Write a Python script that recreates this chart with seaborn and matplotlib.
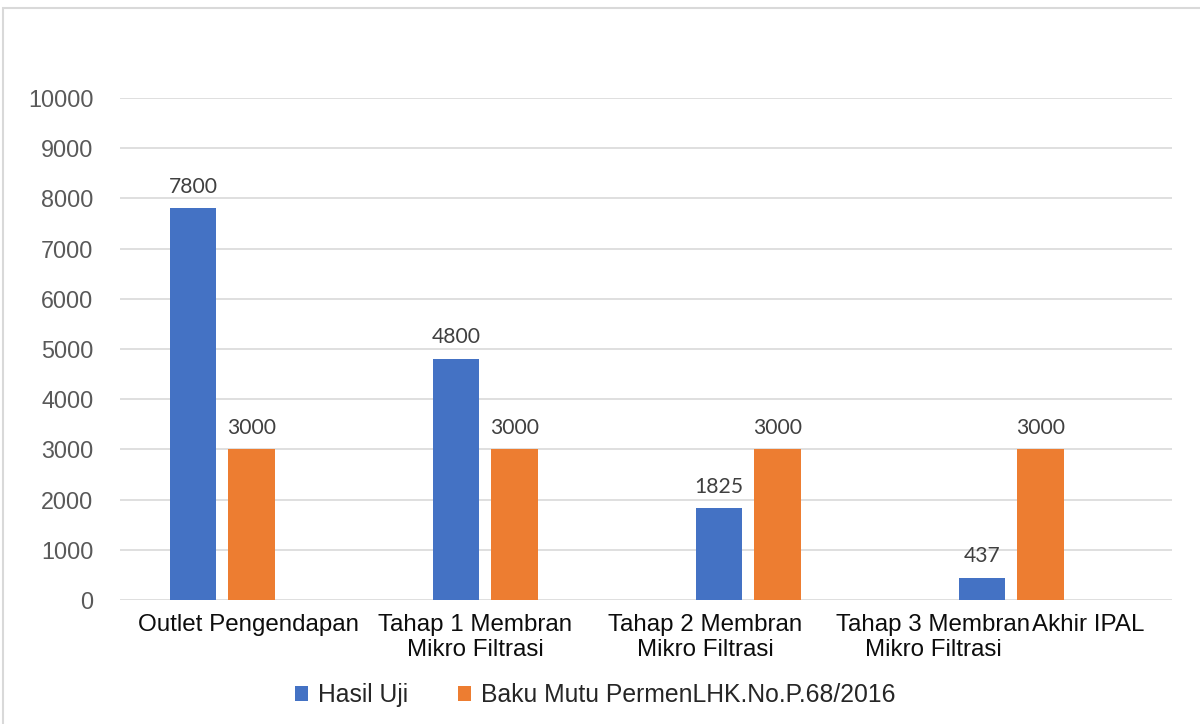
import pandas as pd
import numpy as np
import matplotlib.pyplot as plt
import matplotlib.transforms as mtransforms
from matplotlib.patches import Rectangle, Patch
import seaborn as sns

# --- data ---
lokasi = ['Outlet Pengendapan', 'Tahap 1 Membran\nMikro Filtrasi',
          'Tahap 2 Membran\nMikro Filtrasi', 'Tahap 3 Membran\nMikro Filtrasi']
hasil_uji = [7800, 4800, 1825, 437]
baku_mutu = [3000, 3000, 3000, 3000]
seri = ['Hasil Uji', 'Baku Mutu PermenLHK.No.P.68/2016']
extra_label = 'Akhir IPAL'   # stray category text in the original export
yticks = list(range(0, 10001, 1000))

BLUE = '#4472C4'
ORANGE = '#ED7D31'
GRID = '#d9d9d9'


def build_frame():
    df = pd.DataFrame({
        'lokasi': lokasi * 2,
        'seri': [seri[0]] * len(lokasi) + [seri[1]] * len(lokasi),
        'nilai': hasil_uji + baku_mutu,
    })
    return df


def draw(df):
    sns.set_style('white')
    plt.rcParams['font.family'] = ['Liberation Sans', 'DejaVu Sans']

    fig = plt.figure(figsize=(12, 7.24), dpi=100)
    ax = fig.add_axes([0.1, 0.1713, 0.8767, 0.6933])

    # the source chart had an empty third series, so each group keeps a blank slot
    sns.barplot(data=df, x='lokasi', y='nilai', hue='seri',
                hue_order=seri + [' '], palette=[BLUE, ORANGE, 'white'],
                order=lokasi, width=0.667, gap=0.21, saturation=1,
                linewidth=0, legend=False, ax=ax)

    ax.set_ylim(0, 10000)
    ax.set_yticks(yticks)
    ax.yaxis.grid(True, color=GRID, lw=1.2)
    ax.set_axisbelow(True)
    for s in ax.spines.values():
        s.set_visible(False)
    ax.tick_params(axis='y', length=0, pad=19, labelsize=16.8, labelcolor='#595959')
    ax.tick_params(axis='x', length=0)
    ax.set_xticklabels([])
    ax.set_xlabel('')
    ax.set_ylabel('')

    # value labels
    for cont in ax.containers:
        ax.bar_label(cont, fmt='%g', padding=8.5, fontsize=15.2,
                     color='#404040', family='Lato')

    # category labels (Excel placed them drifting left of the groups)
    fs = 17.4
    shift_px = [-3, -39, -72, -107]
    for i, lab in enumerate(lokasi):
        off = mtransforms.ScaledTranslation(shift_px[i] / 100, -14 / 100, fig.dpi_scale_trans)
        ax.text(i, 0, lab, transform=ax.get_xaxis_transform() + off,
                ha='center', va='top', fontsize=fs, color='#0d0d0d',
                multialignment='center')
    off = mtransforms.ScaledTranslation(-9 / 100, -14 / 100, fig.dpi_scale_trans)
    ax.text(len(lokasi) - 1, 0, extra_label, transform=ax.get_xaxis_transform() + off,
            ha='left', va='top', fontsize=fs, color='#0d0d0d')

    handles = [Patch(facecolor=BLUE, edgecolor='none'),
               Patch(facecolor=ORANGE, edgecolor='none')]
    fig.legend(handles, seri, loc='center', bbox_to_anchor=(0.496, 0.04),
               ncol=2, frameon=False, fontsize=17.8, handlelength=0.55,
               handleheight=0.55, handletextpad=0.4, columnspacing=2.0)

    # light chart-area border (left and top edges visible)
    fig.patches.append(Rectangle((3 / 1200, -0.2), 1.2, 1.2 - 8 / 724,
                                 transform=fig.transFigure, fill=False,
                                 edgecolor=GRID, lw=1.5))

    fig.savefig('out.png', dpi=100)


if __name__ == '__main__':
    draw(build_frame())
